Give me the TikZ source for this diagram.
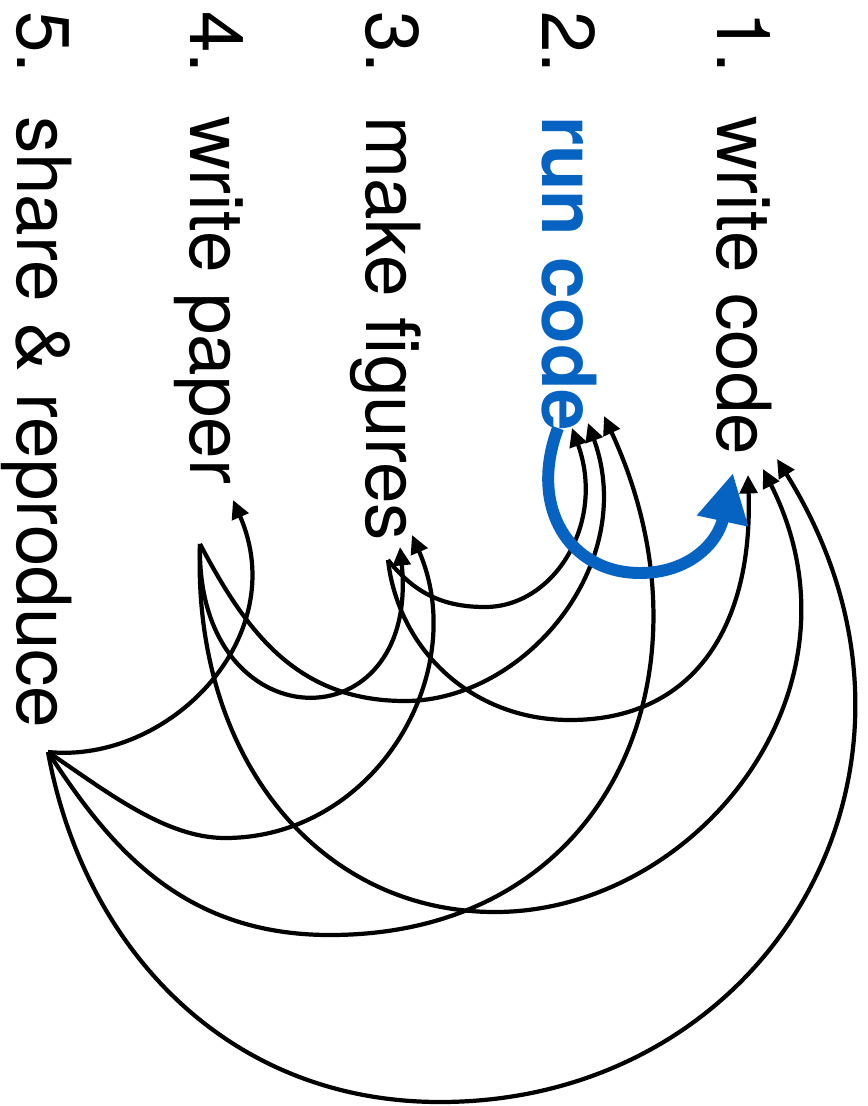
\documentclass[tikz,border=0pt]{standalone}
\usepackage{fontspec}
\setmainfont{TeX Gyre Heros}
\usetikzlibrary{arrows.meta}
\definecolor{runblue}{RGB}{6,99,193}

\begin{document}
\begin{tikzpicture}[
  x=0.02cm, y=-0.02cm,
  item/.style={rotate=-90, anchor=base west, inner sep=0pt, outer sep=0pt,
    font=\fontsize{42.5}{51}\selectfont},
  backarc/.style={line width=2.4pt, -{Triangle[length=10.5pt, width=10pt]}},
  runarc/.style={draw=runblue, line width=6.8pt, -{Triangle[length=28pt, width=28pt]}}
]
\useasboundingbox (0,0) rectangle (867,1106);

% Steps, read from top to bottom
\node[item] (n1) at (717,11) {1.};
\node[item] (n2) at (542,11) {2.};
\node[item] (n3) at (366,11) {3.};
\node[item] (n4) at (190,11) {4.};
\node[item] (n5) at (17,11) {5.};
\node[item] (t1) at (717,116) {write code};
\node[item, text=runblue, font=\fontsize{42.5}{51}\selectfont\bfseries] (t2) at (542,116) {run code};
\node[item] (t3) at (366,116) {make figures};
\node[item] (t4) at (190,116) {write paper};
\node[item] (t5) at (17,116) {share \& reproduce};

% Where the arcs leave and land
\coordinate (s2) at (558,428);
\coordinate (s3) at (388,560);
\coordinate (s4) at (200,544);
\coordinate (s5) at (48,752);
\coordinate (e1a) at (748,475);
\coordinate (e1b) at (763,469);
\coordinate (e1c) at (777,459);
\coordinate (e1run) at (733,473);
\coordinate (e2a) at (572,428);
\coordinate (e2b) at (588,423);
\coordinate (e2c) at (604,416);
\coordinate (e3a) at (400,547);
\coordinate (e3b) at (412,535);
\coordinate (e4) at (233,500);

% From step 5 back to every earlier step
\draw[backarc] (s5) .. controls +(120,12) and +(60,138) .. (e4);
\draw[backarc] (s5) .. controls +(58,39) and +(-60,0) .. (225,838)
  .. controls +(150,0) and +(60,138) .. (e3b);
\draw[backarc] (s5) .. controls +(60,92) and +(-150,0) .. (330,935)
  .. controls +(280,0) and +(118,255) .. (e2c);
\draw[backarc] (s5) .. controls +(35,193) and +(-215,0) .. (440,1102)
  .. controls +(330,0) and +(191,306) .. (e1c);

% From step 4
\draw[backarc] (s4) .. controls +(-5,200) and +(20,200) .. (e3a);
\draw[backarc] (s4) .. controls +(45,85) and +(-110,0) .. (405,701)
  .. controls +(120,0) and +(51,141) .. (e2b);
\draw[backarc] (s4) .. controls +(-8,215) and +(-175,0) .. (495,912)
  .. controls +(200,0) and +(112,222) .. (e1b);

% From step 3
\draw[backarc] (s3) .. controls +(25,31) and +(-45,0) .. (485,607)
  .. controls +(70,0) and +(34,94) .. (e2a);
\draw[backarc] (s3) .. controls +(10,88) and +(-100,0) .. (570,720)
  .. controls +(125,0) and +(5,150) .. (e1a);

% Running the code loops back to writing it
\draw[runarc] (s2) .. controls +(-30,80) and +(-70,0) .. (640,573)
  .. controls +(50,0) and +(-15,69) .. (e1run);

\end{tikzpicture}
\end{document}
